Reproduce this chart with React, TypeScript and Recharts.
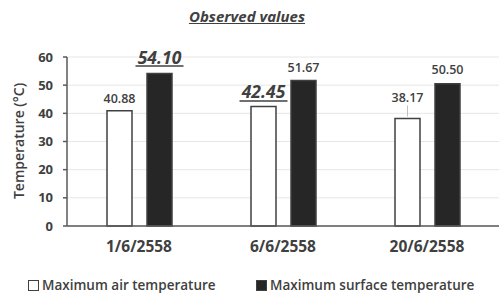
import { BarChart, Bar, XAxis, YAxis, CartesianGrid, LabelList, Label } from 'recharts';

const dates = ['1/6/2558', '6/6/2558', '20/6/2558'];
const airTemp = [40.88, 42.45, 38.17];
const surfaceTemp = [54.1, 51.67, 50.5];
const yTicks = [0, 10, 20, 30, 40, 50, 60];

const data = dates.map((date, i) => ({ date, air: airTemp[i], surface: surfaceTemp[i] }));

const FONT = '"Open Sans", sans-serif';
const TEXT = '#404040';

// extra lift of a label above its bar, per point (only 38.17 has a leader line)
const airLift = [0, 0, 8];
const surfaceLift = [2, 0, 2];

function makeLabel(values: number[], lift: number[]) {
  const maxIdx = values.indexOf(Math.max(...values));
  return (props: any) => {
    const { x, y, width, index, value } = props;
    const cx = x + width / 2;
    const big = index === maxIdx;
    const base = y - 8 - lift[index];
    const txt = Number(value).toFixed(2);
    if (big) {
      const w = 48;
      return (
        <g>
          <text x={cx} y={base} textAnchor="middle" fontFamily={FONT} fontSize={17.5} fontWeight={700} fontStyle="italic" fill={TEXT}>
            {txt}
          </text>
          <line x1={cx - w / 2} x2={cx + w / 2} y1={base + 2.5} y2={base + 2.5} stroke={TEXT} strokeWidth={1.5} />
        </g>
      );
    }
    return (
      <g>
        <text x={cx} y={base} textAnchor="middle" fontFamily={FONT} fontSize={12.5} fontWeight={600} fill={TEXT}>
          {txt}
        </text>
        {lift[index] > 4 && (
          <line x1={cx} x2={cx} y1={base + 3} y2={y - 2} stroke="#bfbfbf" strokeWidth={1} />
        )}
      </g>
    );
  };
}

export default function App() {
  return (
    <div style={{ position: 'absolute', left: 0, top: 0, width: 499, height: 296, background: '#fff' }}>
      <div
        style={{
          position: 'absolute',
          top: 6,
          left: 0,
          width: 494,
          textAlign: 'center',
          fontFamily: FONT,
          fontSize: 15,
          fontWeight: 700,
          fontStyle: 'italic',
          textDecoration: 'underline',
          color: TEXT,
        }}
      >
        Observed values
      </div>
      <BarChart
        width={499}
        height={296}
        data={data}
        margin={{ top: 57, right: 0, left: 0, bottom: 40 }}
        barCategoryGap={40}
        barGap={15}
        barSize={25}
      >
        <CartesianGrid vertical={false} stroke="#e6e6e6" />
        <XAxis
          dataKey="date"
          height={30}
          tickLine={false}
          axisLine={{ stroke: '#595959', strokeWidth: 1.5 }}
          tick={{ fontFamily: FONT, fontSize: 15.5, fontWeight: 700, fill: TEXT }}
          tickMargin={9}
        />
        <YAxis
          width={67}
          domain={[0, 60]}
          ticks={yTicks}
          tickSize={4}
          tickMargin={10}
          axisLine={{ stroke: '#595959', strokeWidth: 1.5 }}
          tickLine={{ stroke: '#595959', strokeWidth: 1.5 }}
          tick={{ fontFamily: FONT, fontSize: 13, fontWeight: 700, fill: TEXT }}
        >
          <Label
            content={() => (
              <text
                x={0}
                y={0}
                transform="translate(24,141) rotate(-90)"
                textAnchor="middle"
                fontFamily={FONT}
                fontSize={14}
                fontWeight={600}
                fill={TEXT}
              >
                Temperature (°C)
              </text>
            )}
          />
        </YAxis>
        <Bar dataKey="air" fill="#ffffff" stroke="#404040" strokeWidth={1.5} isAnimationActive={false}>
          <LabelList dataKey="air" content={makeLabel(airTemp, airLift)} />
        </Bar>
        <Bar dataKey="surface" fill="#262626" stroke="#404040" strokeWidth={1.5} isAnimationActive={false}>
          <LabelList dataKey="surface" content={makeLabel(surfaceTemp, surfaceLift)} />
        </Bar>
      </BarChart>
      <div
        style={{
          position: 'absolute',
          top: 276,
          left: 0,
          width: 499,
          fontFamily: FONT,
          fontSize: 13.5,
          fontWeight: 600,
          color: TEXT,
        }}
      >
        <div style={{ position: 'absolute', left: 28, display: 'flex', alignItems: 'center', gap: 3 }}>
          <span style={{ width: 9, height: 9, border: '1px solid #404040', background: '#fff', display: 'inline-block' }} />
          Maximum air temperature
        </div>
        <div style={{ position: 'absolute', left: 256, display: 'flex', alignItems: 'center', gap: 3 }}>
          <span style={{ width: 9, height: 9, border: '1px solid #404040', background: '#262626', display: 'inline-block' }} />
          Maximum surface temperature
        </div>
      </div>
    </div>
  );
}
